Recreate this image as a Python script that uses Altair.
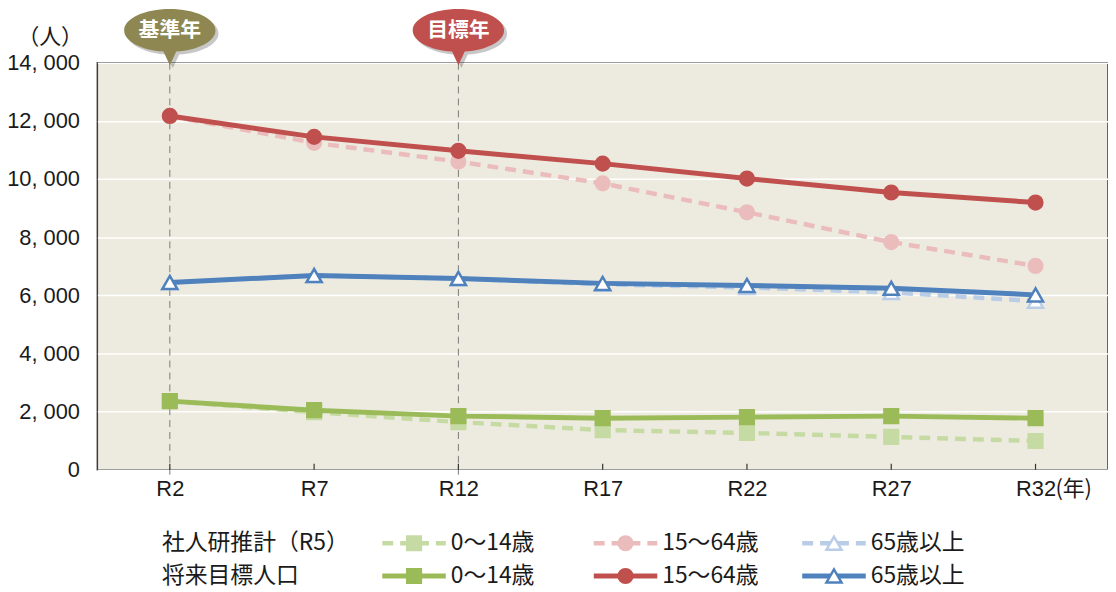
import altair as alt
import pandas as pd

periods = ["R2", "R7", "R12", "R17", "R22", "R27", "R32"]

# 将来目標人口 (solid)
target_0_14 = [2360, 2050, 1845, 1775, 1810, 1845, 1775]
target_15_64 = [12170, 11450, 10970, 10530, 10015, 9535, 9190]
target_65 = [6440, 6680, 6580, 6410, 6340, 6240, 6015]
# 社人研推計（R5） (dashed)
proj_0_14 = [2360, 1980, 1640, 1365, 1265, 1130, 990]
proj_15_64 = [12170, 11245, 10600, 9850, 8855, 7830, 7010]
proj_65 = [6440, 6680, 6580, 6380, 6270, 6100, 5800]

age_labels = ["0～14歳", "15～64歳", "65歳以上"]
row_labels = ["社人研推計（R5）", "将来目標人口"]
callout_periods = ["R2", "R12"]
callout_labels = ["基準年", "目標年"]

W, H = 1018, 410
FONT = "Liberation Sans"
CJK = "Noto Sans CJK JP"

x_scale = alt.Scale(domain=periods, type="point", padding=73 / ((W - 146) / 6))
y_scale = alt.Scale(domain=[0, 14000])

styles = {
    ("proj", 0): dict(color="#c6dba3", shape="square", fill="#c6dba3", size=190),
    ("proj", 1): dict(color="#ebbcbc", shape="circle", fill="#ebbcbc", size=190),
    ("proj", 2): dict(color="#b9cde6", shape="triangle-up", fill="#ffffff", size=230),
    ("target", 0): dict(color="#9bbb59", shape="square", fill="#9bbb59", size=190),
    ("target", 1): dict(color="#c0504d", shape="circle", fill="#c0504d", size=190),
    ("target", 2): dict(color="#4f81bd", shape="triangle-up", fill="#ffffff", size=230),
}
series = {
    ("proj", 0): proj_0_14, ("proj", 1): proj_15_64, ("proj", 2): proj_65,
    ("target", 0): target_0_14, ("target", 1): target_15_64, ("target", 2): target_65,
}

X = alt.X("period:O", scale=x_scale, title=None,
          axis=alt.Axis(labelAngle=0, labelAlign="center", labelBaseline="middle",
                        labelFontSize=22, labelFont=FONT,
                        labelColor="#1a1a1a", labelPadding=19, ticks=False, domain=False, grid=False))
Y = alt.Y("value:Q", scale=y_scale,
          axis=alt.Axis(title="（人）", titleAngle=0, titleX=-48, titleY=-26, titleFont=CJK,
                        titleFontSize=22, titleFontWeight="normal", titleColor="#1a1a1a",
                        titleAlign="center", titleBaseline="middle",
                        labelFontSize=22, labelFont=FONT, labelColor="#1a1a1a", labelPadding=18,
                        labelExpr="replace(format(datum.value, ',.0f'), ',', ', ')",
                        ticks=False, domain=False, gridColor="#ffffff", gridWidth=1.5,
                        values=list(range(0, 14001, 2000))))

layers = []

# reference vertical dashed lines
call_df = pd.DataFrame({"period": callout_periods, "label": callout_labels})
layers.append(alt.Chart(call_df).mark_rule(color="#7a7a7a", strokeDash=[7, 5], strokeWidth=1).encode(
    x=alt.X("period:O", scale=x_scale), y=alt.value(0), y2=alt.value(H + 5)))

# inward x ticks
tick_df = pd.DataFrame({"period": periods})
layers.append(alt.Chart(tick_df).mark_rule(color="#333333", strokeWidth=1.2).encode(
    x=alt.X("period:O", scale=x_scale), y=alt.value(H - 6), y2=alt.value(H)))

for kind in ["proj", "target"]:
    for i in range(3):
        st = styles[(kind, i)]
        df = pd.DataFrame({"period": periods, "value": series[(kind, i)]})
        if kind == "proj":
            line = alt.Chart(df).mark_line(color=st["color"], strokeWidth=4.5, strokeDash=[11, 7])
        else:
            line = alt.Chart(df).mark_line(color=st["color"], strokeWidth=5)
        layers.append(line.encode(x=X, y=Y))
        layers.append(alt.Chart(df).mark_point(shape=st["shape"], size=st["size"], filled=True,
                                               fill=st["fill"], stroke=st["color"], strokeWidth=2.5,
                                               opacity=1).encode(x=X, y=Y))

# callouts
bubble = ("M-1,0 A1,0.467 0 0 1 1,0 A1,0.467 0 0 1 0.14,0.462 L0,0.76 "
          "L-0.14,0.462 A1,0.467 0 0 1 -1,0 Z")
call_colors = ["#8e8752", "#c0504d"]
for p, lab, col in zip(callout_periods, callout_labels, call_colors):
    d = pd.DataFrame({"period": [p], "label": [lab]})
    layers.append(alt.Chart(d).mark_point(shape=bubble, size=8464, filled=True, fill="#000000",
                                          opacity=0.22, xOffset=3, yOffset=3, strokeWidth=0).encode(
        x=alt.X("period:O", scale=x_scale), y=alt.value(-32.5)))
    layers.append(alt.Chart(d).mark_point(shape=bubble, size=8464, filled=True, fill=col,
                                          opacity=1, strokeWidth=0).encode(
        x=alt.X("period:O", scale=x_scale), y=alt.value(-32.5)))
    layers.append(alt.Chart(d).mark_text(font=CJK, fontSize=21, fontWeight="bold", color="#ffffff",
                                         align="center", baseline="middle").encode(
        x=alt.X("period:O", scale=x_scale), y=alt.value(-32), text="label:N"))

# (年) after last x label
nen_df = pd.DataFrame({"period": ["R32"], "t": ["(年)"]})
layers.append(alt.Chart(nen_df).mark_text(font=CJK, fontSize=22, color="#1a1a1a", align="left",
                                          baseline="middle", dx=20).encode(
    x=alt.X("period:O", scale=x_scale), y=alt.value(H + 19), text="t:N"))

# custom legend
row_y = [484, 517]
col_x0 = [287, 500, 710]
col_len = 64
for r, kind in enumerate(["proj", "target"]):
    d = pd.DataFrame({"t": [row_labels[r]]})
    layers.append(alt.Chart(d).mark_text(font=CJK, fontSize=23, color="#1a1a1a", align="left",
                                         baseline="middle").encode(
        x=alt.value(65), y=alt.value(row_y[r]), text="t:N"))
    for i in range(3):
        st = styles[(kind, i)]
        x0 = col_x0[i]
        d = pd.DataFrame({"t": [age_labels[i]]})
        if kind == "proj":
            rl = alt.Chart(d).mark_rule(color=st["color"], strokeWidth=4.5, strokeDash=[11, 7])
        else:
            rl = alt.Chart(d).mark_rule(color=st["color"], strokeWidth=5)
        layers.append(rl.encode(x=alt.value(x0), x2=alt.value(x0 + col_len), y=alt.value(row_y[r])))
        layers.append(alt.Chart(d).mark_point(shape=st["shape"], size=st["size"], filled=True,
                                              fill=st["fill"], stroke=st["color"], strokeWidth=2.5,
                                              opacity=1).encode(
            x=alt.value(x0 + col_len / 2), y=alt.value(row_y[r])))
        layers.append(alt.Chart(d).mark_text(font=CJK, fontSize=23, color="#1a1a1a", align="left",
                                             baseline="middle").encode(
            x=alt.value(x0 + col_len + 5), y=alt.value(row_y[r]), text="t:N"))

chart = alt.layer(*layers).properties(
    width=W, height=H,
    autosize=alt.AutoSizeParams(type="none"),
    padding={"left": 90, "top": 53, "right": 0, "bottom": 118},
    background="#ffffff",
).configure_view(fill="#edebe0", stroke="#3a3a3a", strokeWidth=1.5)

chart.save("out.html", embed_options={"renderer": "svg", "actions": False})
